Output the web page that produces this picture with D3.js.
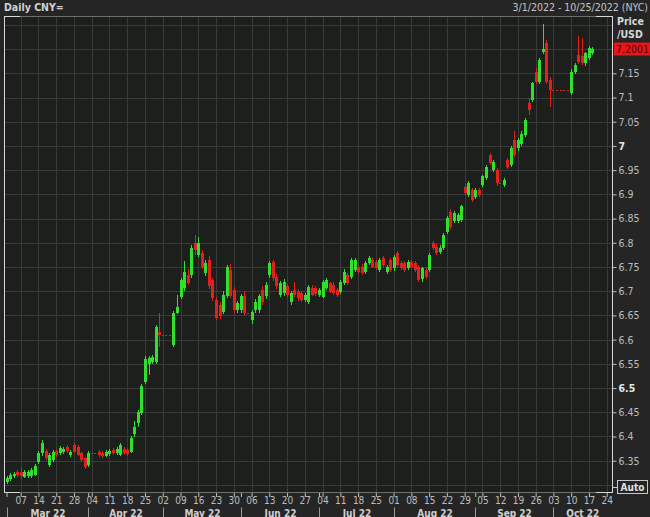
<!DOCTYPE html>
<html><head><meta charset="utf-8">
<script src="https://cdn.jsdelivr.net/npm/d3@7"></script>
<style>html,body{margin:0;padding:0;background:#252525;overflow:hidden}</style>
</head><body><svg id="c" width="650" height="517"></svg>
<script>
// trading days (weekdays) 2022, M/D
const dates = [
"3/1","3/2","3/3","3/4","3/7","3/8","3/9","3/10","3/11","3/14","3/15","3/16","3/17","3/18","3/21","3/22","3/23","3/24","3/25","3/28","3/29","3/30","3/31",
"4/1","4/4","4/5","4/6","4/7","4/8","4/11","4/12","4/13","4/14","4/15","4/18","4/19","4/20","4/21","4/22","4/25","4/26","4/27","4/28","4/29",
"5/2","5/3","5/4","5/5","5/6","5/9","5/10","5/11","5/12","5/13","5/16","5/17","5/18","5/19","5/20","5/23","5/24","5/25","5/26","5/27","5/30","5/31",
"6/1","6/2","6/3","6/6","6/7","6/8","6/9","6/10","6/13","6/14","6/15","6/16","6/17","6/20","6/21","6/22","6/23","6/24","6/27","6/28","6/29","6/30",
"7/1","7/4","7/5","7/6","7/7","7/8","7/11","7/12","7/13","7/14","7/15","7/18","7/19","7/20","7/21","7/22","7/25","7/26","7/27","7/28","7/29",
"8/1","8/2","8/3","8/4","8/5","8/8","8/9","8/10","8/11","8/12","8/15","8/16","8/17","8/18","8/19","8/22","8/23","8/24","8/25","8/26","8/29","8/30","8/31",
"9/1","9/2","9/5","9/6","9/7","9/8","9/9","9/12","9/13","9/14","9/15","9/16","9/19","9/20","9/21","9/22","9/23","9/26","9/27","9/28","9/29","9/30",
"10/3","10/4","10/5","10/6","10/7","10/10","10/11","10/12","10/13","10/14","10/17","10/18","10/19","10/20","10/21","10/24","10/25"];

const openP = [
6.306,6.312,6.318,6.326, 6.327,6.317,6.319,6.318,6.321, 6.348,6.365,6.370,6.342,6.351, 6.370,6.366,6.368,6.379,6.362, 6.382,6.379,6.365,6.355,6.341,
6.365,6.365,6.368,6.366,6.360, 6.364,6.372,6.366,6.362,6.375, 6.372,6.368,6.405,6.428,6.449, 6.513,6.550,6.554,6.554,6.616,
6.610,6.610,6.610,6.589,6.655, 6.688,6.707,6.733,6.733,6.800, 6.775,6.778,6.737,6.765,6.723, 6.682,6.672,6.658,6.690,6.744,
6.703,6.661,6.661,6.690,6.655, 6.640,6.661,6.661,6.703,6.690, 6.733,6.760,6.730,6.692,6.696, 6.710,6.678,6.703,6.699,6.696,
6.682,6.678,6.707,6.706,6.692, 6.689,6.707,6.716,6.713,6.702, 6.699,6.716,6.733,6.730,6.744, 6.751,6.751,6.740,6.758,6.764,
6.761,6.744,6.768,6.740,6.764, 6.747,6.778,6.758,6.758,6.747, 6.761,6.758,6.751,6.725,6.744, 6.744,6.799,6.792,6.780,6.789,
6.823,6.864,6.844,6.844,6.847, 6.916,6.899,6.909,6.895,6.909, 6.919,6.933,6.981,6.950,6.950, 6.923,6.919,6.971,6.960,7.012,
6.995,7.005,7.023,7.088,7.095, 7.153,7.133,7.195,7.212,7.136, 7.115,7.115,7.115,7.115,7.115, 7.109,7.153,7.188,7.185,7.171,
7.181,7.191];
const highP = [
6.318,6.325,6.326,6.330, 6.334,6.330,6.330,6.334,6.344, 6.369,6.392,6.375,6.366,6.372, 6.374,6.380,6.378,6.383,6.372, 6.386,6.382,6.368,6.358,6.369,
6.365,6.365,6.372,6.369,6.372, 6.375,6.376,6.378,6.386,6.378, 6.376,6.401,6.432,6.455,6.508, 6.566,6.566,6.568,6.630,6.655,
6.610,6.610,6.610,6.660,6.692, 6.728,6.762,6.745,6.795,6.817, 6.812,6.786,6.765,6.772,6.728, 6.688,6.678,6.700,6.755,6.756,
6.708,6.680,6.695,6.700,6.655, 6.662,6.683,6.695,6.710,6.718, 6.762,6.765,6.735,6.722,6.725, 6.715,6.700,6.720,6.705,6.700,
6.697,6.712,6.712,6.710,6.706, 6.724,6.727,6.720,6.718,6.706, 6.724,6.745,6.738,6.768,6.768, 6.755,6.756,6.762,6.772,6.770,
6.765,6.768,6.772,6.755,6.768, 6.775,6.783,6.762,6.762,6.765, 6.765,6.762,6.755,6.751,6.749, 6.779,6.804,6.797,6.795,6.820,
6.855,6.869,6.865,6.861,6.879, 6.921,6.928,6.914,6.913,6.913, 6.941,6.961,6.986,6.971,6.955, 6.923,6.934,6.976,6.999,7.030,
7.016,7.030,7.058,7.098,7.133, 7.160,7.182,7.251,7.218,7.142, 7.115,7.115,7.115,7.115,7.115, 7.158,7.171,7.226,7.222,7.195,
7.206,7.205];
const lowP = [
6.302,6.309,6.314,6.317, 6.313,6.314,6.315,6.315,6.318, 6.344,6.360,6.351,6.338,6.348, 6.358,6.362,6.364,6.366,6.358, 6.365,6.359,6.348,6.333,6.338,
6.365,6.365,6.358,6.356,6.357, 6.360,6.362,6.362,6.359,6.361, 6.360,6.365,6.398,6.420,6.445, 6.508,6.528,6.550,6.550,6.585,
6.610,6.610,6.610,6.585,6.652, 6.684,6.700,6.712,6.728,6.775, 6.770,6.745,6.732,6.705,6.680, 6.640,6.642,6.652,6.685,6.685,
6.655,6.655,6.655,6.650,6.655, 6.632,6.656,6.656,6.672,6.684, 6.728,6.722,6.705,6.688,6.690, 6.688,6.672,6.688,6.680,6.678,
6.677,6.674,6.690,6.690,6.688, 6.685,6.703,6.696,6.693,6.688, 6.695,6.712,6.712,6.725,6.740, 6.736,6.733,6.736,6.755,6.748,
6.744,6.740,6.750,6.736,6.740, 6.742,6.750,6.743,6.740,6.743, 6.747,6.740,6.719,6.720,6.726, 6.740,6.785,6.774,6.776,6.785,
6.818,6.828,6.840,6.840,6.843, 6.898,6.895,6.884,6.891,6.895, 6.915,6.929,6.960,6.946,6.918, 6.923,6.915,6.953,6.956,6.977,
6.990,7.000,7.018,7.064,7.090, 7.128,7.128,7.190,7.128,7.081, 7.115,7.115,7.115,7.115,7.115, 7.105,7.149,7.170,7.167,7.166,
7.177,7.188];
const closeP = [
6.315,6.321,6.323,6.320, 6.318,6.327,6.326,6.330,6.340, 6.365,6.386,6.355,6.362,6.368, 6.362,6.376,6.374,6.370,6.368, 6.368,6.362,6.351,6.336,6.365,
6.365,6.365,6.361,6.360,6.368, 6.371,6.366,6.374,6.382,6.366, 6.364,6.397,6.420,6.450,6.504, 6.560,6.562,6.564,6.626,6.610,
6.610,6.610,6.610,6.655,6.667, 6.723,6.740,6.717,6.790,6.785, 6.800,6.750,6.758,6.710,6.686, 6.645,6.648,6.692,6.750,6.690,
6.661,6.675,6.690,6.655,6.655, 6.658,6.678,6.690,6.678,6.713, 6.758,6.727,6.710,6.717,6.720, 6.693,6.696,6.692,6.685,6.682,
6.692,6.709,6.693,6.694,6.702, 6.720,6.723,6.699,6.696,6.692, 6.720,6.740,6.716,6.764,6.764, 6.740,6.737,6.758,6.768,6.751,
6.747,6.764,6.754,6.751,6.744, 6.771,6.754,6.747,6.744,6.761, 6.751,6.744,6.723,6.747,6.730, 6.775,6.789,6.778,6.790,6.816,
6.851,6.833,6.861,6.857,6.875, 6.902,6.923,6.888,6.909,6.899, 6.937,6.957,6.964,6.967,6.923, 6.923,6.930,6.957,6.995,6.981,
7.012,7.025,7.054,7.074,7.129, 7.133,7.177,7.200,7.133,7.115, 7.115,7.115,7.115,7.115,7.115, 7.153,7.167,7.174,7.171,7.191,
7.202,7.2001];

const yTickValues = [7.15,7.1,7.05,7,6.95,6.9,6.85,6.8,6.75,6.7,6.65,6.6,6.55,6.5,6.45,6.4,6.35];
const yTickLabels = ["7.15","7.1","7.05","7","6.95","6.9","6.85","6.8","6.75","6.7","6.65","6.6","6.55","6.5","6.45","6.4","6.35"];
const yBoldLabels = ["7","6.5"];
const yGridValues = [7.25,7.2,7.15,7.1,7.05,7,6.95,6.9,6.85,6.8,6.75,6.7,6.65,6.6,6.55,6.5,6.45,6.4,6.35,6.3];
const monthLabels = ["Mar 22","Apr 22","May 22","Jun 22","Jul 22","Aug 22","Sep 22","Oct 22"];
const lastPriceLabel = "7.2001";
const titleText = "Daily CNY=";
const rangeText = "3/1/2022 - 10/25/2022 (NYC)";

const FONT = "'DejaVu Sans Condensed','DejaVu Sans',sans-serif";
const svg = d3.select("#c");
const W = 650, H = 517;
const L = 4, R = 612, T = 16, B = 492;

svg.append("rect").attr("width",W).attr("height",H).attr("fill","#252525");
svg.append("rect").attr("x",L).attr("y",T).attr("width",R-L).attr("height",B-T).attr("fill","#1c1f1c");

const x = d3.scaleLinear().domain([0,169]).range([6.5,606.7]);
const y = d3.scaleLinear().domain([6.35,7.15]).range([460.7,73.3]);

const parsed = dates.map(s => { const [m,d] = s.split("/").map(Number); return new Date(2022,m-1,d); });
const mondayIdx = parsed.map((d,i)=>d.getDay()===1? i : -1).filter(i=>i>=0 && i<=169);
const monthStart = parsed.map((d,i)=> (i===0 || d.getMonth()!==parsed[i-1].getMonth()) ? i : -1).filter(i=>i>=0);

const g = svg.append("g");
// grid
g.selectAll("line.hg").data(yGridValues).enter().append("line")
  .attr("x1",L).attr("x2",R).attr("y1",d=>Math.round(y(d))+0.5).attr("y2",d=>Math.round(y(d))+0.5)
  .attr("stroke","#383c38").attr("stroke-width",1);
g.selectAll("line.vg").data(mondayIdx).enter().append("line")
  .attr("y1",T).attr("y2",B).attr("x1",d=>Math.round(x(d))+0.5).attr("x2",d=>Math.round(x(d))+0.5)
  .attr("stroke","#383c38").attr("stroke-width",1);

// candles
const GREEN = "#2fe02f", RED = "#e3211c";
const cg = svg.append("g").attr("shape-rendering","crispEdges");
closeP.forEach((c,i)=>{
  const o = openP[i], h = highP[i], l = lowP[i];
  const cx = Math.round(x(i));
  if (o===c && h===l) {
    cg.append("line").attr("x1",cx-1).attr("x2",cx+1).attr("y1",Math.round(y(c))+0.5).attr("y2",Math.round(y(c))+0.5)
      .attr("stroke",RED).attr("stroke-width",1);
    return;
  }
  const col = c>=o ? GREEN : RED;
  cg.append("line").attr("x1",cx+0.5).attr("x2",cx+0.5).attr("y1",y(h)).attr("y2",y(l)).attr("stroke",col).attr("stroke-width",1);
  const top = y(Math.max(o,c)), bot = y(Math.min(o,c));
  cg.append("rect").attr("x",cx-1).attr("width",3).attr("y",top).attr("height",Math.max(1,bot-top)).attr("fill",col);
});

// frame
const fr = svg.append("g").attr("shape-rendering","crispEdges");
fr.append("line").attr("x1",L).attr("x2",R).attr("y1",T+0.5).attr("y2",T+0.5).attr("stroke","#6e6e6e");
fr.append("line").attr("x1",L).attr("x2",R).attr("y1",B+0.5).attr("y2",B+0.5).attr("stroke","#6e6e6e");
[[L,L+16],[R-16,R]].forEach(([a,b])=>{
  fr.append("line").attr("x1",a).attr("x2",b).attr("y1",T+0.5).attr("y2",T+0.5).attr("stroke","#d8d8d8");
  fr.append("line").attr("x1",a).attr("x2",b).attr("y1",B+0.5).attr("y2",B+0.5).attr("stroke","#d8d8d8");
});
fr.append("line").attr("x1",L+0.5).attr("x2",L+0.5).attr("y1",T).attr("y2",B+1).attr("stroke","#d8d8d8");
fr.append("line").attr("x1",R+0.5).attr("x2",R+0.5).attr("y1",T).attr("y2",B+1).attr("stroke","#d8d8d8");

// right axis
const yAxis = d3.axisRight(y).tickValues(yTickValues).tickSize(4).tickPadding(2)
  .tickFormat((d,i)=>yTickLabels[i]);
const ya = svg.append("g").attr("transform",`translate(${R+0.5},0)`).call(yAxis);
ya.select(".domain").remove();
ya.selectAll(".tick line").attr("stroke","#bdbdbd");
ya.selectAll(".tick text").attr("font-family",FONT).attr("font-size","10.5px")
  .attr("font-weight",(d,i)=> yBoldLabels.includes(yTickLabels[i]) ? "bold" : "normal")
  .attr("fill",(d,i)=> yBoldLabels.includes(yTickLabels[i]) ? "#e6e6e6" : "#bdbdbd");

// last price tag
const lp = closeP[closeP.length-1];
svg.append("rect").attr("x",R+2).attr("y",y(lp)-6.5).attr("width",W-R-2).attr("height",13).attr("fill","#e8161b");
svg.append("text").attr("x",R+4).attr("y",y(lp)+4).attr("font-family",FONT).attr("font-size","10.5px")
  .attr("fill","#4a0000").text(lastPriceLabel);

// price unit
svg.append("text").attr("x",617).attr("y",25).attr("font-family",FONT).attr("font-size","10.5px").attr("font-weight","bold").attr("fill","#d6d6d6").text("Price");
svg.append("text").attr("x",617).attr("y",38).attr("font-family",FONT).attr("font-size","10.5px").attr("font-weight","bold").attr("fill","#d6d6d6").text("/USD");

// Auto box
svg.append("rect").attr("x",617.5).attr("y",480.5).attr("width",30).attr("height",13).attr("fill","none").attr("stroke","#c8c8c8");
svg.append("text").attr("x",632.5).attr("y",491).attr("text-anchor","middle").attr("font-family",FONT).attr("font-size","10px").attr("font-weight","bold").attr("fill","#e0e0e0").text("Auto");
svg.append("line").attr("x1",R).attr("x2",617).attr("y1",487.5).attr("y2",487.5).attr("stroke","#c8c8c8");

// bottom axis
const tickIdx = Array.from(new Set([...mondayIdx, ...monthStart.filter(i=>i<=169)])).sort((a,b)=>a-b);
const xAxis = d3.axisBottom(x).tickValues(tickIdx).tickSize(4).tickPadding(1)
  .tickFormat(i => mondayIdx.includes(i) ? String(parsed[i].getDate()).padStart(2,"0") : "");
const xa = svg.append("g").attr("transform",`translate(0,${B+1})`).call(xAxis);
xa.select(".domain").remove();
xa.selectAll(".tick line").attr("stroke","#bdbdbd");
xa.selectAll(".tick text").attr("fill","#bdbdbd").attr("font-family",FONT).attr("font-size","10px").attr("dy","0.6em");

// month separators and labels
const sepX = monthStart.map(i=>Math.round(x(i))+0.5);
svg.selectAll("line.ms").data(sepX).enter().append("line")
  .attr("x1",d=>d).attr("x2",d=>d).attr("y1",507.5).attr("y2",517).attr("stroke","#9a9a9a");
const bounds = sepX.concat([R]);
svg.selectAll("text.ml").data(monthLabels).enter().append("text")
  .attr("x",(d,i)=>(bounds[i]+bounds[i+1])/2).attr("y",516.5).attr("text-anchor","middle")
  .attr("font-family",FONT).attr("font-size","10px").attr("font-weight","bold").attr("fill","#cfcfcf").text(d=>d);

// title
svg.append("text").attr("x",4).attr("y",11).attr("font-family",FONT).attr("font-size","10.5px").attr("font-weight","bold").attr("fill","#d0d0d0").text(titleText);
svg.append("text").attr("x",648).attr("y",11).attr("text-anchor","end").attr("font-family",FONT).attr("font-size","10.5px").attr("fill","#c4c4c4").text(rangeText);
</script></body></html>
